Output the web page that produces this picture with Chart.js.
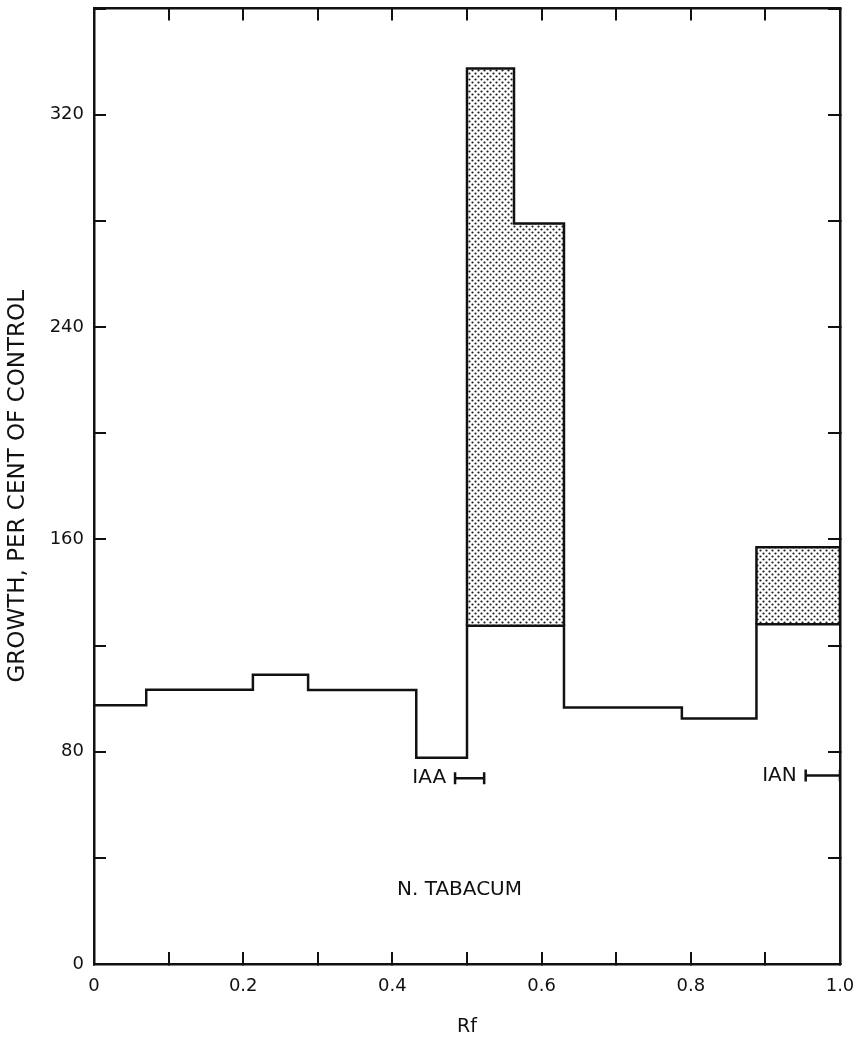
<!DOCTYPE html>
<html>
<head>
<meta charset="utf-8">
<script src="https://cdn.jsdelivr.net/npm/chart.js@4"></script>
<style>
  html, body { margin: 0; padding: 0; background: #fff; }
  canvas { display: block; }
</style>
</head>
<body>
<canvas id="chart" width="856" height="1043"></canvas>
<script>
// bin edges (Rf) and growth of each bin, per cent of control
const rfEdges = [0, 0.07, 0.213, 0.287, 0.432, 0.50, 0.63, 0.788, 0.888, 1.0];
const growth = [97.5, 103.3, 109, 103.2, 77.7, 127.4, 96.6, 92.5, 128];

// stippled part above the base line
const peakEdges = [0.50, 0.563, 0.63];
const peakTops = [337.4, 279];
const ianEdges = [0.888, 1.0];
const ianTops = [157];

// reference spots
const iaaRange = [0.484, 0.523];
const iaaLevel = 70;
const ianRange = [0.954, 1.0];
const ianLevel = 71;

const xLabelValues = [0, 0.2, 0.4, 0.6, 0.8, 1.0];
const xTickLabels = ['0', '0.2', '0.4', '0.6', '0.8', '1.0'];
const yLabelValues = [0, 80, 160, 240, 320];
const yTickLabels = ['0', '80', '160', '240', '320'];

const INK = '#111';
const FONT = 'DejaVu Sans';

function stepPoints(edges, values) {
  const pts = edges.slice(0, -1).map((x, i) => ({ x: x, y: values[i] }));
  pts.push({ x: edges[edges.length - 1], y: values[values.length - 1] });
  return pts;
}

function blockPoints(edges, tops, floor) {
  const pts = [{ x: edges[0], y: floor }];
  tops.forEach((t, i) => pts.push({ x: edges[i], y: t }));
  pts.push({ x: edges[edges.length - 1], y: tops[tops.length - 1] });
  pts.push({ x: edges[edges.length - 1], y: floor });
  return pts;
}

function floorAt(x) {
  for (let i = 0; i < growth.length; i++) {
    if (x >= rfEdges[i] - 1e-9 && x < rfEdges[i + 1] - 1e-9) return growth[i];
  }
  return growth[growth.length - 1];
}

const ctx = document.getElementById('chart').getContext('2d');

function stipple() {
  const c = document.createElement('canvas');
  c.width = 6; c.height = 6;
  const g = c.getContext('2d');
  g.fillStyle = '#fff';
  g.fillRect(0, 0, 6, 6);
  g.fillStyle = '#1a1a1a';
  g.beginPath(); g.arc(1.5, 1.5, 1.1, 0, Math.PI * 2); g.fill();
  g.beginPath(); g.arc(4.5, 4.5, 1.1, 0, Math.PI * 2); g.fill();
  return ctx.createPattern(c, 'repeat');
}
const dots = stipple();

function pickLabel(values, labels) {
  return (v) => {
    const i = values.findIndex(t => Math.abs(t - v) < 1e-6);
    return i >= 0 ? labels[i] : '';
  };
}

const spotLabels = {
  id: 'spotLabels',
  afterDatasetsDraw(chart) {
    const { ctx: c, scales: { x, y } } = chart;
    c.save();
    c.fillStyle = INK;
    c.font = '20px ' + FONT;
    c.textBaseline = 'middle';
    c.textAlign = 'right';
    c.fillText('IAA', x.getPixelForValue(iaaRange[0]) - 9, y.getPixelForValue(iaaLevel));
    c.fillText('IAN', x.getPixelForValue(ianRange[0]) - 9, y.getPixelForValue(ianLevel));
    c.textAlign = 'center';
    c.fillText('N. TABACUM', x.getPixelForValue(0.49), y.getPixelForValue(28));
    c.restore();
  }
};

// horizontal first, then vertical
const lineBase = { borderColor: INK, borderWidth: 2.5, pointRadius: 0, tension: 0 };
const capStyle = { pointStyle: 'line', rotation: 90, pointRadius: 6, pointBorderWidth: 2.5, pointBorderColor: INK };

const inwardGrid = { drawOnChartArea: false, color: INK, lineWidth: 2, tickLength: -12 };
const frameBorder = { display: true, color: INK, width: 2.5 };

new Chart(ctx, {
  type: 'line',
  data: {
    datasets: [
      Object.assign({ label: 'growth', data: stepPoints(rfEdges, growth), stepped: 'before', fill: false }, lineBase),
      Object.assign({ label: 'peak', data: blockPoints(peakEdges, peakTops, floorAt(peakEdges[0])), stepped: 'before',
        fill: { value: floorAt(peakEdges[0]) }, backgroundColor: dots }, lineBase),
      Object.assign({ label: 'ian block', data: blockPoints(ianEdges, ianTops, floorAt(ianEdges[0])), stepped: 'before',
        fill: { value: floorAt(ianEdges[0]) }, backgroundColor: dots }, lineBase),
      Object.assign({ label: 'IAA', data: iaaRange.map(v => ({ x: v, y: iaaLevel })), fill: false }, lineBase, capStyle),
      Object.assign({ label: 'IAN', data: ianRange.map(v => ({ x: v, y: ianLevel })), fill: false }, lineBase, capStyle)
    ]
  },
  options: {
    responsive: false,
    animation: false,
    devicePixelRatio: 1,
    layout: { padding: { left: 0, right: 16, top: 7, bottom: 0 } },
    plugins: { legend: { display: false }, tooltip: { enabled: false } },
    scales: {
      x: {
        type: 'linear', position: 'bottom', min: 0, max: 1,
        grid: inwardGrid, border: frameBorder,
        ticks: { stepSize: 0.1, autoSkip: false, maxRotation: 0, padding: 24, color: INK,
          font: { family: FONT, size: 18 }, callback: pickLabel(xLabelValues, xTickLabels) },
        title: { display: true, text: 'Rf', color: INK, font: { family: FONT, size: 19 }, padding: { top: 0, bottom: 5 } },
        afterFit: s => { s.height = 79; s.paddingLeft = 0; s.paddingRight = 0; }
      },
      x2: {
        type: 'linear', position: 'top', min: 0, max: 1,
        grid: inwardGrid, border: frameBorder,
        ticks: { stepSize: 0.1, autoSkip: false, display: false },
        afterFit: s => { s.height = 0; s.paddingLeft = 0; s.paddingRight = 0; }
      },
      y: {
        type: 'linear', position: 'left', min: 0, max: 360,
        grid: inwardGrid, border: frameBorder,
        ticks: { stepSize: 40, autoSkip: false, padding: 22, color: INK,
          font: { family: FONT, size: 18 }, callback: pickLabel(yLabelValues, yTickLabels) },
        title: { display: true, text: 'GROWTH, PER CENT OF CONTROL', color: INK,
          font: { family: FONT, size: 23 }, padding: { top: 4, bottom: 0 } },
        afterFit: s => { s.width = 94; s.paddingTop = 0; s.paddingBottom = 0; }
      },
      y2: {
        type: 'linear', position: 'right', min: 0, max: 360,
        grid: inwardGrid, border: frameBorder,
        ticks: { stepSize: 40, autoSkip: false, display: false },
        afterFit: s => { s.width = 0; s.paddingTop = 0; s.paddingBottom = 0; }
      }
    }
  },
  plugins: [spotLabels]
});
</script>
</body>
</html>
